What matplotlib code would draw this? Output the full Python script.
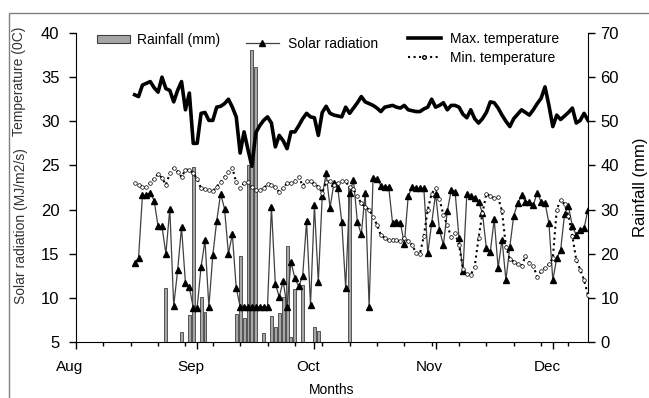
import numpy as np
import pandas as pd
import matplotlib
matplotlib.use("Agg")
import matplotlib.pyplot as plt
import matplotlib.dates as mdates
from matplotlib.patches import Patch, Rectangle
from matplotlib.lines import Line2D
from matplotlib.transforms import ScaledTranslation

plt.rcParams['font.family'] = ['Liberation Sans', 'DejaVu Sans']

# daily data, 16 Aug - 10 Dec
start = '2010-08-16'
max_temp = [33.0, 32.8, 34.1, 34.3, 34.5, 33.8, 33.3, 35.0, 33.7, 33.5,
            32.2, 33.5, 34.5, 31.3, 33.2, 27.5, 27.5, 30.9, 31.0, 30.1,
            30.1, 31.6, 31.7, 32.0, 32.5, 31.6, 30.5, 26.4, 28.8, 26.8,
            24.9, 28.7, 29.5, 30.1, 30.5, 29.8, 27.1, 28.4, 27.8, 26.9,
            28.8, 28.8, 29.5, 30.3, 30.9, 30.5, 30.4, 28.4, 31.0, 31.7,
            30.9, 30.7, 30.6, 30.5, 31.6, 30.9, 31.5, 32.1, 32.8, 32.2,
            32.0, 31.8, 31.5, 31.1, 31.6, 31.7, 31.8, 31.6, 31.5, 31.8,
            31.3, 31.2, 31.1, 31.1, 31.4, 31.6, 32.5, 31.6, 31.8, 32.1,
            31.3, 31.8, 31.8, 31.6, 30.8, 30.4, 31.3, 30.3, 29.8, 30.3,
            31.0, 32.2, 32.1, 31.5, 30.7, 30.0, 29.4, 30.3, 30.8, 31.3,
            31.0, 30.7, 31.3, 32.0, 32.6, 33.9, 31.8, 29.4, 30.7, 30.2,
            30.6, 31.0, 31.5, 29.8, 30.1, 30.9, 30.1]
min_temp = [23.0, 22.8, 22.6, 22.5, 23.0, 23.5, 24.0, 23.6, 22.8, 24.1,
            24.7, 24.3, 23.7, 24.5, 24.5, 24.1, 23.5, 22.4, 22.3, 22.2,
            22.1, 22.6, 23.1, 23.7, 24.2, 24.7, 23.1, 22.4, 23.0, 23.1,
            22.5, 22.2, 22.2, 22.4, 22.9, 22.8, 22.5, 22.0, 22.4, 23.0,
            23.0, 23.2, 23.7, 22.7, 23.2, 23.2, 22.9, 22.6, 21.9, 23.1,
            23.2, 22.8, 23.0, 23.2, 23.2, 22.5, 22.3, 21.5, 20.7, 20.3,
            20.0, 19.2, 18.3, 17.1, 16.8, 16.5, 16.6, 16.5, 16.4, 16.8,
            16.4, 16.0, 15.1, 15.0, 17.0, 20.0, 21.8, 22.4, 21.2, 19.4,
            18.2, 16.9, 17.3, 16.0, 13.3, 12.7, 12.6, 13.5, 16.8, 19.6,
            21.8, 21.5, 21.3, 21.4, 19.8, 15.8, 14.4, 14.1, 13.8, 13.6,
            14.7, 14.0, 13.6, 12.4, 13.0, 13.4, 13.8, 14.5, 20.0, 21.1,
            20.6, 19.3, 17.0, 14.3, 13.2, 12.0, 10.3]
solar = [14.0, 14.5, 21.6, 21.7, 21.9, 21.0, 18.1, 18.1, 15.0, 20.1,
         9.1, 13.1, 18.0, 11.7, 11.2, 8.9, 8.9, 13.5, 16.5, 9.0,
         14.8, 18.7, 21.8, 20.1, 15.0, 17.2, 11.1, 9.0, 9.0, 9.0,
         9.0, 9.0, 9.0, 9.0, 9.0, 20.3, 11.6, 10.1, 11.9, 9.0,
         14.1, 12.2, 11.3, 12.5, 18.7, 9.2, 20.5, 11.8, 21.5, 24.1,
         20.2, 23.0, 22.4, 18.6, 11.1, 21.9, 23.3, 18.6, 17.2, 21.9,
         9.0, 23.6, 23.5, 22.7, 22.6, 22.6, 18.45, 18.6, 18.5, 16.1,
         21.5, 22.6, 22.4, 22.4, 22.4, 15.05, 18.45, 21.8, 17.7, 16.0,
         19.8, 22.2, 22.0, 16.75, 13.0, 21.8, 21.5, 21.3, 20.9, 19.6,
         15.6, 15.2, 18.9, 13.4, 16.6, 12.0, 15.8, 19.3, 20.7, 21.6,
         20.9, 20.9, 20.5, 21.9, 20.9, 20.8, 18.45, 12.0, 14.5, 15.4,
         19.5, 20.4, 18.1, 17.1, 17.7, 17.9, 20.0]

rain_dates = ['2010-08-24', '2010-08-28', '2010-08-30', '2010-08-31', '2010-09-02',
              '2010-09-03', '2010-09-11', '2010-09-12', '2010-09-13', '2010-09-14',
              '2010-09-15', '2010-09-16', '2010-09-18', '2010-09-20', '2010-09-21',
              '2010-09-22', '2010-09-23', '2010-09-24', '2010-09-25', '2010-09-26',
              '2010-09-28', '2010-10-01', '2010-10-02', '2010-10-10']
rain_mm = [12.2, 2.3, 6.1, 39.7, 10.1,
           6.8, 6.3, 19.4, 5.4, 40.2,
           66.2, 62.4, 2.0, 5.9, 3.3,
           6.6, 10.3, 21.8, 1.1, 12.0,
           13.0, 3.4, 2.6, 35.4]

days = pd.date_range(start, periods=len(max_temp), freq='D')
rdays = pd.to_datetime(rain_dates)

fig = plt.figure(figsize=(6.49, 3.98), dpi=100)
ax = fig.add_axes([76/649, 1-342/398, 512/649, 309/398])
ax2 = ax.twinx()
ax.set_zorder(ax2.get_zorder() + 1)
ax.patch.set_visible(False)

# rainfall bars on right axis
ax2.bar(rdays, rain_mm, width=0.75, color='#a6a6a6', edgecolor='#404040', linewidth=0.6)
ax2.set_ylim(0, 70)
ax2.set_yticks(np.arange(0, 71, 10))

ax.plot(days, solar, color='#404040', lw=0.9, marker='^', ms=5, mfc='black', mec='black')
ax.plot(days, max_temp, color='black', lw=2.6)
ax.plot(days, min_temp, color='black', lw=1.5, ls=':', marker='o', ms=2.6,
        mfc='white', mec='black', mew=0.5)

ax.set_ylim(5, 40)
ax.set_yticks(np.arange(5, 41, 5))
ax.set_xlim(pd.Timestamp('2010-08-01'), pd.Timestamp('2010-12-10'))
ax.xaxis.set_major_locator(mdates.MonthLocator())
ax.xaxis.set_major_formatter(mdates.DateFormatter('%b'))
ax.set_xticks(pd.date_range('2010-08-01', '2010-12-10', freq='7D'), minor=True)

for a in (ax, ax2):
    a.spines['top'].set_visible(False)
ax.spines['right'].set_visible(False)
ax2.spines['left'].set_visible(False)
ax2.spines['bottom'].set_visible(False)

ax.tick_params(axis='y', direction='out', length=5, width=1, labelsize=12, pad=7)
ax.tick_params(axis='x', which='major', direction='out', length=5, width=1, labelsize=11, pad=8)
ax.tick_params(axis='x', which='minor', direction='out', length=3, width=1)
ax2.tick_params(axis='y', direction='out', length=5, width=1, labelsize=12, pad=4)

offset = ScaledTranslation(-6/100, 0, fig.dpi_scale_trans)
for lab in ax.get_xticklabels():
    lab.set_transform(lab.get_transform() + offset)

ax2.set_ylabel('Rainfall (mm)', fontsize=12, labelpad=10)
fig.text(19/649, 1-81/398, 'Temperature (0C)', rotation=90, ha='center', va='center',
         fontsize=10, color='#333333')
fig.text(21/649, 1-226/398, 'Solar radiation (MJ/m2/s)', rotation=90, ha='center', va='center',
         fontsize=10, color='#333333')
fig.text(332/649, 1-390/398, 'Months', ha='center', va='center', fontsize=10)

# legends
h_rain = Patch(facecolor='#a6a6a6', edgecolor='#404040', linewidth=0.8)
h_solar = Line2D([], [], color='#404040', lw=0.9, marker='^', ms=5, mfc='black', mec='black')
h_max = Line2D([], [], color='black', lw=2.6)
h_min = Line2D([], [], color='black', lw=1.5, ls=':', marker='o', ms=2.6, mfc='white', mec='black')

kw = dict(frameon=False, loc='center left', fontsize=10, borderpad=0, borderaxespad=0,
          handlelength=2.35, bbox_transform=fig.transFigure)
leg1 = ax.legend([h_rain], ['Rainfall (mm)'], bbox_to_anchor=(97/649, 1-40/398),
                 handletextpad=0.5, handleheight=0.55, **kw)
ax.add_artist(leg1)
leg2 = ax.legend([h_solar], ['Solar radiation'], bbox_to_anchor=(246/649, 1-44/398),
                 handletextpad=0.65, **kw)
ax.add_artist(leg2)
ax.legend([h_max, h_min], ['Max. temperature', 'Min. temperature'],
          bbox_to_anchor=(408/649, 1-48.5/398), handletextpad=0.7, labelspacing=0.4, **kw)

# outer chart border
fig.patches.append(Rectangle((9/649, -0.1), 1.2, 1.1 - 13/398, transform=fig.transFigure,
                             fill=False, edgecolor='#808080', lw=1))

fig.savefig('out.png', dpi=100)
